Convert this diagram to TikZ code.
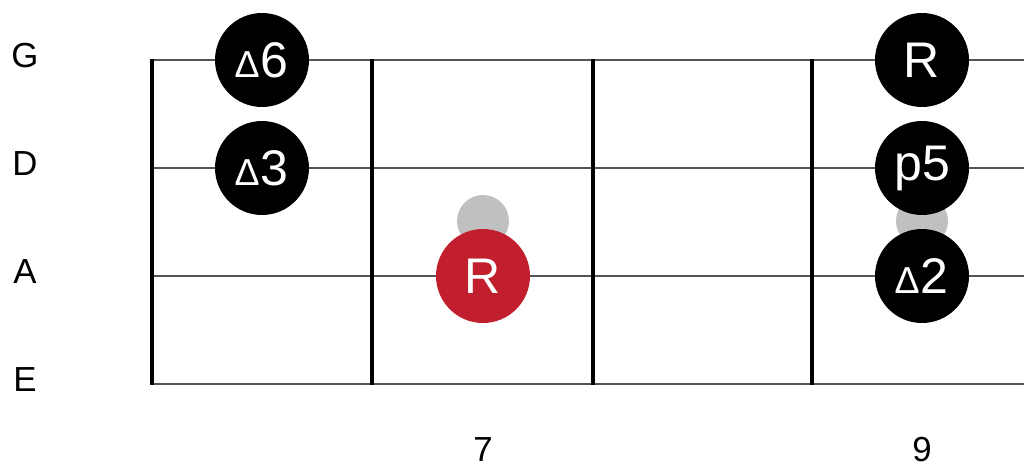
\documentclass[tikz,border=0pt]{standalone}
\usepackage{fontspec}
\setmainfont{Liberation Sans}
\usepackage{graphicx}
\usepackage{tikz}
\usetikzlibrary{positioning}
\definecolor{rootred}{RGB}{193,30,46}
\definecolor{ghostgray}{RGB}{192,192,192}
\definecolor{stringgray}{RGB}{85,85,85}
\newcommand{\tri}{\scalebox{0.75}{∆}\kern1pt}

\begin{document}
\begin{tikzpicture}[
    x=0.02cm, y=-0.02cm,
    strlabel/.style={font=\fontsize{19.8}{20}\selectfont, anchor=center, inner sep=0pt},
    fretnum/.style={font=\fontsize{19.8}{20}\selectfont, anchor=center, inner sep=0pt},
    note/.style={circle, fill=black, text=white, minimum size=1.88cm, inner sep=0pt, font=\fontsize{28.5}{30}\selectfont},
    rootnote/.style={note, fill=rootred},
    ghost/.style={circle, fill=ghostgray, minimum size=1.04cm, inner sep=0pt},
    string/.style={stringgray, line width=0.7pt},
    lowstring/.style={stringgray, line width=1.2pt},
    fret/.style={black, line width=2.2pt}
]
\useasboundingbox (0,0) rectangle (1024,466);

% Strings
\draw[string] (152,60) -- (1024,60);
\draw[string] (152,168) -- (1024,168);
\draw[string] (152,276) -- (1024,276);
\draw[lowstring] (152,384) -- (1024,384);

% Frets
\draw[fret] (152,59) -- (152,385);
\draw[fret] (372,59) -- (372,385);
\draw[fret] (593,59) -- (593,385);
\draw[fret] (812,59) -- (812,385);

% String names
\node[strlabel] (lblG) at (25,56) {G};
\node[strlabel] (lblD) at (25,164) {D};
\node[strlabel] (lblA) at (25,272) {A};
\node[strlabel] (lblE) at (25,380) {E};

% Fret numbers
\node[fretnum] (fret7) at (483,450) {7};
\node[fretnum] (fret9) at (922,450) {9};

% Ghost notes
\node[ghost] (ghostA) at (483,221) {};
\node[ghost] (ghostB) at (922,221) {};

% Notes
\node[note] (maj6) at (262,60) {\tri6};
\node[note] (maj3) at (262,168) {\tri3};
\node[rootnote] (rootA) at (483,276) {R};
\node[note] (rootG) at (922,60) {R};
\node[note] (fifth) at (922,168) {p5};
\node[note] (maj2) at (922,276) {\tri2};

\end{tikzpicture}
\end{document}
